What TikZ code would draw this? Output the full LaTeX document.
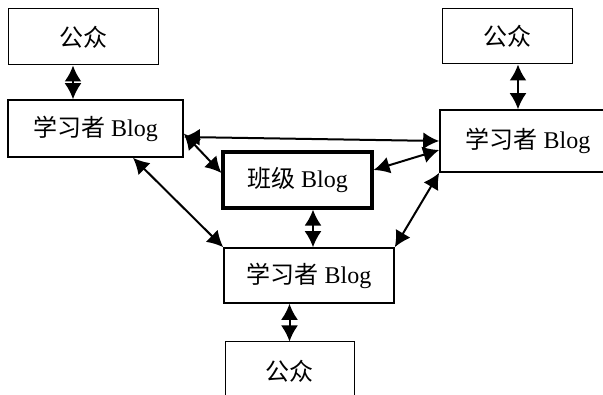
\documentclass[tikz,border=0pt]{standalone}
\usepackage{fontspec}
\setmainfont{Liberation Serif}
\newfontfamily\cjk{Noto Sans CJK SC}
\usetikzlibrary{arrows.meta}
\begin{document}
\begin{tikzpicture}[x=1pt, y=-1pt,
    box/.style={draw, line width=1.6pt, minimum width=#1, minimum height=57pt, inner sep=0pt, font=\fontsize{24}{28}\selectfont},
    pbox/.style={box=#1, line width=1pt},
    dbl/.style={line width=2pt, arrows={Latex[length=16pt, width=17pt]-Latex[length=16pt, width=17pt]}}]
    \useasboundingbox (0,0) rectangle (603,395);
    \node[pbox=150pt, minimum height=56pt] (pubA) at (83,37) {\cjk 公众};
    \node[pbox=130pt, minimum height=55pt] (pubB) at (507,36.5) {\cjk 公众};
    \node[pbox=129pt, minimum height=58pt] (pubC) at (289.5,371) {\cjk 公众};
    \node[box=175pt] (learnL) at (95.5,128.5) {{\cjk 学习者} Blog};
    \node[box=176pt, minimum height=62pt] (learnR) at (528,141) {{\cjk 学习者} Blog};
    \node[box=170pt, minimum height=55pt] (learnB) at (309,275.5) {{\cjk 学习者} Blog};
    \node[box=149pt, minimum height=56pt, line width=3.2pt] (klass) at (297.5,180) {{\cjk 班级} Blog};
    \draw[dbl] ([xshift=-10pt]pubA.south) -- ([xshift=-10pt]pubA.south |- learnL.north);
    \draw[dbl] ([xshift=11pt]pubB.south) -- ([xshift=11pt]pubB.south |- learnR.north);
    \draw[dbl] ([xshift=15.5pt]klass.south) -- ([xshift=15.5pt]klass.south |- learnB.north);
    \draw[dbl] (pubC.north |- learnB.south) -- (pubC.north);
    \draw[dbl] ([yshift=-8.5pt]learnL.east) -- (learnR.west);
    \draw[dbl] ([yshift=-5pt]learnL.east) -- ([yshift=7pt]klass.west);
    \draw[dbl] ([yshift=-9pt]learnR.west) -- ([yshift=10pt]klass.east);
    \draw[dbl] ([xshift=37.5pt]learnL.south) -- (learnB.north west);
    \draw[dbl] (learnR.south west) -- (learnB.north east);
\end{tikzpicture}
\end{document}
